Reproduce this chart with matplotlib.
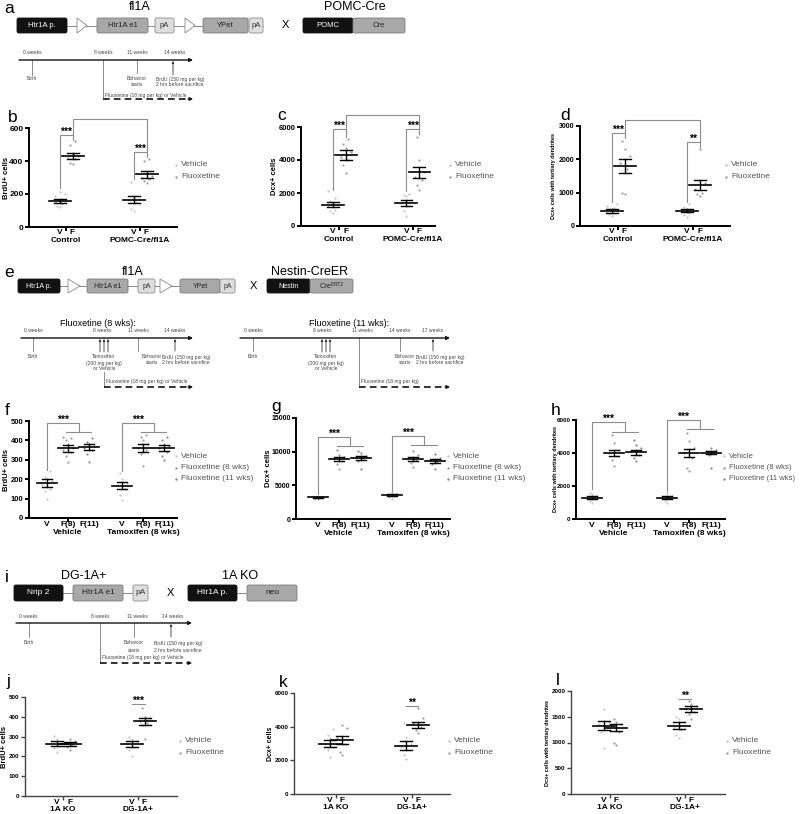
import numpy as np
import matplotlib
matplotlib.use("Agg")
import matplotlib.pyplot as plt
from matplotlib.patches import FancyBboxPatch, Polygon

plt.rcParams['font.family'] = ['Liberation Sans', 'DejaVu Sans']

W, H = 800, 814

# ---------------- data ----------------
two_cats = ["V", "F"]
three_cats = ["V", "F(8)", "F(11)"]
pomc_groups = ["Control", "POMC-Cre/fl1A"]
nestin_groups = ["Vehicle", "Tamoxifen (8 wks)"]
dg_groups = ["1A KO", "DG-1A+"]
legend2 = ["Vehicle", "Fluoxetine"]
legend3 = ["Vehicle", "Fluoxetine (8 wks)", "Fluoxetine (11 wks)"]

# panel b: BrdU+ cells
b_means = [[160, 430], [165, 320]]
b_sems = [[12, 18], [20, 20]]
b_points = [[[120, 130, 140, 150, 155, 160, 165, 170, 185, 200, 210],
             [380, 390, 410, 420, 430, 440, 500, 520]],
            [[100, 110, 150, 165, 170, 180, 275],
             [265, 280, 290, 300, 310, 330, 400, 410]]]
# panel c: Dcx+ cells
c_means = [[1300, 4300], [1380, 3250]]
c_sems = [[150, 280], [170, 350]]
c_points = [[[800, 900, 1000, 1200, 1300, 1400, 1500, 1700, 2100],
             [3200, 3700, 4000, 4200, 4500, 4700, 5000, 5300]],
            [[600, 900, 1200, 1400, 1600, 1800, 1900, 1950],
             [2200, 2500, 2800, 3000, 3300, 4000, 5400]]]
# panel d: Dcx+ cells with tertiary dendrites
d_means = [[450, 1800], [460, 1230]]
d_sems = [[50, 200], [50, 160]]
d_points = [[[300, 350, 380, 420, 450, 480, 500, 550, 600, 650],
             [950, 1000, 1700, 1900, 2100, 2300, 2550]],
            [[280, 330, 400, 450, 480, 520, 560, 650],
             [900, 950, 1000, 1100, 1300, 2300]]]
# panel f
f_means = [[180, 360, 365], [165, 360, 360]]
f_sems = [[20, 18, 15], [18, 20, 15]]
f_points = [[[100, 140, 150, 170, 190, 200, 210, 240],
             [290, 320, 340, 350, 360, 380, 400, 410, 420],
             [290, 330, 350, 360, 370, 380, 390, 410]],
            [[95, 120, 150, 170, 180, 200, 230],
             [270, 330, 350, 360, 380, 400, 420, 430],
             [300, 320, 340, 360, 370, 380, 400, 420]]]
# panel g
g_means = [[3200, 8900, 9100], [3500, 8900, 8600]]
g_sems = [[80, 300, 300], [150, 350, 300]]
g_points = [[[2900, 3000, 3100, 3200, 3300, 3400],
             [7500, 8200, 8600, 8900, 9200, 9500, 10200],
             [7400, 8600, 9000, 9200, 9400, 9800, 10100]],
            [[3000, 3200, 3400, 3600, 3800, 4000],
             [7700, 8300, 8800, 9100, 9500, 10100],
             [7500, 8200, 8500, 8700, 9000, 9600]]]
# panel h
h_means = [[1300, 4000, 4050], [1300, 3980, 4030]]
h_sems = [[100, 200, 150], [100, 250, 120]]
h_points = [[[1000, 1100, 1200, 1300, 1400, 1500, 1600],
             [3200, 3600, 3800, 4000, 4200, 4600, 5100],
             [3500, 3700, 3900, 4100, 4300, 4500, 4800]],
            [[1000, 1100, 1250, 1300, 1400, 1550],
             [2900, 3100, 3700, 4000, 4300, 4700, 5200],
             [3100, 3900, 4000, 4100, 4200, 4300]]]
# panel j
j_means = [[265, 265], [263, 378]]
j_sems = [[12, 10], [15, 18]]
j_points = [[[220, 240, 255, 265, 275, 290, 305],
             [230, 245, 260, 270, 280, 290]],
            [[200, 230, 250, 265, 280, 290, 300],
             [290, 360, 370, 380, 395, 400, 445]]]
# panel k
k_means = [[3000, 3200], [2870, 4100]]
k_sems = [[200, 220], [250, 200]]
k_points = [[[2200, 2600, 2800, 3000, 3200, 3300, 3500, 3850],
             [2300, 2500, 3000, 3300, 3900, 4100]],
            [[2100, 2300, 2600, 2800, 3000, 3400, 4200],
             [3600, 3800, 4000, 4200, 4500, 5100]]]
# panel l
l_means = [[1330, 1290], [1330, 1650]]
l_sems = [[80, 70], [60, 50]]
l_points = [[[900, 1200, 1300, 1350, 1400, 1650],
             [950, 1000, 1200, 1300, 1350, 1400, 1450]],
            [[1080, 1150, 1250, 1300, 1400, 1450, 1500],
             [1450, 1550, 1600, 1650, 1700, 1750, 1800]]]

VEH = '#c6c6c6'
FLU = '#9c9c9c'
FLU11 = '#8a8a8a'
JIT = [0, -2.5, 2.5, -5, 5]

fig = plt.figure(figsize=(W / 100, H / 100), dpi=100)
fig.patch.set_facecolor('white')

# overlay in pixel units for the schematics and labels
ax0 = fig.add_axes([0, 0, 1, 1])
ax0.set_xlim(0, W)
ax0.set_ylim(H, 0)
ax0.axis('off')


def box(x0, x1, yc, h, label, kind, fs=5):
    styles = {'black': ('#111111', '#111111', 'white'),
              'gray': ('#a8a8a8', '#7c7c7c', '#222222'),
              'light': ('#dedede', '#8c8c8c', '#333333')}
    fc, ec, tc = styles[kind]
    ax0.add_patch(FancyBboxPatch((x0, yc - h / 2), x1 - x0, h,
                                 boxstyle='round,pad=0,rounding_size=2',
                                 fc=fc, ec=ec, lw=0.6, zorder=2))
    ax0.text((x0 + x1) / 2, yc, label, color=tc, fontsize=fs,
             ha='center', va='center', zorder=3)


def tri(x0, x1, yc, h):
    ax0.add_patch(Polygon([(x0, yc - h / 2), (x0, yc + h / 2), (x1, yc)],
                          closed=True, fc='white', ec='#888888', lw=0.6, zorder=2))


def link(x0, x1, yc):
    ax0.plot([x0, x1], [yc, yc], color='#888888', lw=0.7, zorder=1)


def tl_text(x, y, s, ha='center', fs=3.6):
    ax0.text(x, y, s, fontsize=fs, ha=ha, va='center', color='#444444')


def timeline(x0, x1, y, labels):
    ax0.annotate('', xy=(x1, y), xytext=(x0, y),
                 arrowprops=dict(arrowstyle='-|>', color='#111111', lw=1.0,
                                 mutation_scale=5, shrinkA=0, shrinkB=0))
    for x, t in labels:
        tl_text(x, y - 7, t)


def vtick(x, y0, y1):
    ax0.plot([x, x], [y0, y1], color='#777777', lw=0.6)


def uparrow(x, y0, y1):
    ax0.annotate('', xy=(x, y1), xytext=(x, y0),
                 arrowprops=dict(arrowstyle='-|>', color='#333333', lw=0.6,
                                 mutation_scale=3, shrinkA=0, shrinkB=0))


def dashed_arrow(x0, x1, y):
    ax0.plot([x0, x1 - 4], [y, y], color='#111111', lw=1.2, ls=(0, (4, 2.5)))
    ax0.annotate('', xy=(x1, y), xytext=(x1 - 5, y),
                 arrowprops=dict(arrowstyle='-|>', color='#111111', lw=0.8,
                                 mutation_scale=5, shrinkA=0, shrinkB=0))


def letter(x, y, s):
    ax0.text(x, y, s, fontsize=12.5, ha='left', va='baseline')


def legend(x, y, labels, cols, dy, fs=6):
    for i, (lab, c) in enumerate(zip(labels, cols)):
        ax0.scatter([x], [y + i * dy], s=3, color=c, linewidths=0)
        ax0.text(x + 5, y + i * dy, lab, fontsize=fs, va='center', color='#555555')


def data_panel(bx, ymax, yticks, centers, off, means, sems, pts, cols,
               cat_lbl, grp_lbl, ylabel, ylab_x, ylab_fs, mean_hw, cap_hw,
               axis_lw=1.4, axis_col='black', cat_off=-1.5, grp_off=-7.5, tick_fs=6):
    L, R, top, bot = bx
    ax = fig.add_axes([L / W, 1 - bot / H, (R - L) / W, (bot - top) / H])
    ax.patch.set_visible(False)
    S = centers[1] - centers[0]
    ax.set_xlim((L - centers[0]) / S, (R - centers[0]) / S)
    ax.set_ylim(0, ymax)
    for s in ['top', 'right']:
        ax.spines[s].set_visible(False)
    for s in ['left', 'bottom']:
        ax.spines[s].set_linewidth(axis_lw)
        ax.spines[s].set_color(axis_col)
    ax.set_yticks(yticks)
    ax.set_yticklabels([str(v) for v in yticks], fontsize=tick_fs, fontweight='bold')
    ax.set_xticks(range(len(means)))
    ax.set_xticklabels([])
    ax.tick_params(length=3, width=axis_lw, color=axis_col, pad=1)
    n = len(means[0])
    xs = [[g + (j - (n - 1) / 2) * off / S for j in range(n)] for g in range(len(means))]
    for g in range(len(means)):
        for j in range(n):
            x = xs[g][j]
            v = sorted(pts[g][j])
            dx = np.array([JIT[k % 5] for k in range(len(v))]) / S
            ax.scatter(x + dx, v, s=2.5, color=cols[j], linewidths=0, zorder=2, clip_on=False)
            m, e = means[g][j], sems[g][j]
            ax.plot([x - mean_hw / S, x + mean_hw / S], [m, m], color='black', lw=1.2, zorder=3)
            ax.plot([x, x], [m - e, m + e], color='black', lw=1.0, zorder=3)
            for yy in (m - e, m + e):
                ax.plot([x - cap_hw / S, x + cap_hw / S], [yy, yy], color='black', lw=1.0, zorder=3)
            ax.annotate(cat_lbl[j], xy=(x, 0), xycoords=('data', 'axes fraction'),
                        xytext=(0, cat_off), textcoords='offset points',
                        ha='center', va='top', fontsize=6, fontweight='bold')
        ax.annotate(grp_lbl[g], xy=(g, 0), xycoords=('data', 'axes fraction'),
                    xytext=(0, grp_off), textcoords='offset points',
                    ha='center', va='top', fontsize=6, fontweight='bold')
    fig.text(ylab_x / W, 1 - (top + bot) / 2 / H, ylabel, rotation=90,
             ha='center', va='center', fontsize=ylab_fs, fontweight='bold')
    return ax, xs


def bracket(ax, x1, x2, y, y1, y2, label, col='#8c8c8c'):
    ax.plot([x1, x1, x2, x2], [y1, y, y, y2], color=col, lw=0.8, clip_on=False)
    if label:
        ax.annotate(label, xy=((x1 + x2) / 2, y), xytext=(0, -1.5),
                    textcoords='offset points', ha='center', va='bottom',
                    fontsize=7.5, fontweight='bold')


def hline(ax, x1, x2, y, col='#8c8c8c'):
    ax.plot([x1, x2], [y, y], color=col, lw=0.8, clip_on=False)


# ---------------- panel a ----------------
letter(4, 13, 'a')
ax0.text(140, 7, 'fl1A', fontsize=9, ha='center', va='center')
ax0.text(355, 7, 'POMC-Cre', fontsize=9, ha='center', va='center')
link(67, 263, 25.5)
box(17, 67, 25.5, 15, 'Htr1A p.', 'black', 5.5)
tri(77, 87, 25.5, 15)
box(97, 148, 25.5, 15, 'Htr1A e1', 'gray', 5.5)
box(155, 174, 25.5, 15, 'pA', 'light', 5.5)
tri(185, 195, 25.5, 15)
box(203, 248, 25.5, 15, 'YPet', 'gray', 5.5)
box(249, 263, 25.5, 15, 'pA', 'light', 5.5)
ax0.text(285, 25.5, 'X', fontsize=8, ha='center', va='center')
box(303, 353, 25.5, 15, 'POMC', 'black', 5.5)
box(353, 405, 25.5, 15, 'Cre', 'gray', 5.5)

timeline(19, 193, 60, [(32, '0 weeks'), (103, '8 weeks'), (137, '11 weeks'), (175, '14 weeks')])
vtick(32, 60, 75)
tl_text(32, 79, 'Birth')
vtick(103, 60, 98)
vtick(137, 60, 73)
tl_text(137, 79, 'Behavior')
tl_text(137, 85, 'starts')
uparrow(173, 75, 61)
tl_text(180, 79, 'BrdU (150 mg per kg)')
tl_text(180, 85, '2 hrs before sacrifice')
tl_text(105, 95, 'Fluoxetine (18 mg per kg) or Vehicle', ha='left')
dashed_arrow(103, 193, 99)

# ---------------- panels b, c, d ----------------
letter(8, 122, 'b')
ax, xs = data_panel((29, 177, 128, 227), 600, [0, 200, 400, 600], [66, 140], 13,
                    b_means, b_sems, b_points, [VEH, FLU], two_cats, pomc_groups,
                    'BrdU+ cells', 7, 5.5, 11, 6, tick_fs=6)
bracket(ax, xs[0][0], xs[0][1], 560, 235, 530, '***')
bracket(ax, xs[0][1], xs[1][1], 655, 560, 455, '***')
bracket(ax, xs[1][0], xs[1][1], 455, 290, 425, '***')
legend(176, 165, legend2, [VEH, FLU], 12)

letter(277, 120, 'c')
ax, xs = data_panel((301, 435, 127, 226), 6000, [0, 2000, 4000, 6000], [339, 413], 13,
                    c_means, c_sems, c_points, [VEH, FLU], two_cats, pomc_groups,
                    'Dcx+ cells', 275, 5.5, 11, 6, tick_fs=5.5)
bracket(ax, xs[0][0], xs[0][1], 5880, 2200, 5400, '***')
bracket(ax, xs[0][1], xs[1][1], 6730, 5880, 5880, '*')
bracket(ax, xs[1][0], xs[1][1], 5880, 2100, 5550, '***')
legend(450, 165, legend2, [VEH, FLU], 12)

letter(560, 120, 'd')
ax, xs = data_panel((580, 730, 126, 226), 3000, [0, 1000, 2000, 3000], [618, 693], 13,
                    d_means, d_sems, d_points, [VEH, FLU], two_cats, pomc_groups,
                    'Dcx+ cells with tertiary dendrites', 553, 4, 11, 6, tick_fs=5)
bracket(ax, xs[0][0], xs[0][1], 2790, 720, 2650, '***')
bracket(ax, xs[0][1], xs[1][1], 3180, 2790, 2520, '*')
bracket(ax, xs[1][0], xs[1][1], 2520, 720, 2380, '**')
legend(726, 165, legend2, [VEH, FLU], 12)

# ---------------- panel e ----------------
letter(4, 277, 'e')
ax0.text(133, 272, 'fl1A', fontsize=9, ha='center', va='center')
ax0.text(310, 272, 'Nestin-CreER', fontsize=9, ha='center', va='center')
link(60, 235, 286)
box(18, 60, 286, 14, 'Htr1A p.', 'black')
tri(68, 80, 286, 14)
box(87, 128, 286, 14, 'Htr1A e1', 'gray')
box(138, 155, 286, 14, 'pA', 'light')
tri(160, 172, 286, 14)
box(180, 220, 286, 14, 'YPet', 'gray')
box(220, 235, 286, 14, 'pA', 'light')
ax0.text(253, 286, 'X', fontsize=8, ha='center', va='center')
box(267, 310, 286, 14, 'Nestin', 'black')
box(310, 353, 286, 14, r'Cre$^{\mathrm{ERT2}}$', 'gray')

ax0.text(98, 323, 'Fluoxetine (8 wks):', fontsize=6.5, ha='center', va='center')
timeline(21, 193, 338, [(33, '0 weeks'), (102, '8 weeks'), (138, '11 weeks'), (175, '14 weeks')])
vtick(33, 338, 351)
tl_text(33, 357, 'Birth')
for xa in (100, 104, 108):
    uparrow(xa, 352, 339)
tl_text(104, 357, 'Tamoxifen')
tl_text(104, 363, '(200 mg per kg)')
tl_text(104, 369, 'or Vehicle')
vtick(138, 338, 351)
tl_text(152, 357, 'Behavior')
tl_text(152, 363, 'starts')
uparrow(175, 351, 339)
tl_text(186, 357, 'BrdU (150 mg per kg)')
tl_text(186, 363, '2 hrs before sacrifice')
vtick(104, 372, 387)
tl_text(106, 382, 'Fluoxetine (18 mg per kg) or Vehicle', ha='left')
dashed_arrow(104, 193, 387)

ax0.text(349, 323, 'Fluoxetine (11 wks):', fontsize=6.5, ha='center', va='center')
timeline(240, 450, 338, [(253, '0 weeks'), (322, '8 weeks'), (362, '11 weeks'),
                         (400, '14 weeks'), (433, '17 weeks')])
vtick(253, 338, 351)
tl_text(253, 357, 'Birth')
for xa in (322, 326, 330):
    uparrow(xa, 352, 339)
tl_text(326, 357, 'Tamoxifen')
tl_text(326, 363, '(200 mg per kg)')
tl_text(326, 369, 'or Vehicle')
vtick(359, 338, 387)
vtick(400, 338, 351)
tl_text(405, 357, 'Behavior')
tl_text(405, 363, 'starts')
uparrow(433, 351, 339)
tl_text(440, 357, 'BrdU (150 mg per kg)')
tl_text(440, 363, '2 hrs before sacrifice')
tl_text(361, 382, 'Fluoxetine (18 mg per kg)', ha='left')
dashed_arrow(359, 450, 387)

# ---------------- panels f, g, h ----------------
letter(5, 415, 'f')
ax, xs = data_panel((29, 177, 421, 518), 500, [0, 100, 200, 300, 400, 500], [68, 143], 21,
                    f_means, f_sems, f_points, [VEH, FLU, FLU11], three_cats, nestin_groups,
                    'BrdU+ cells', 7, 5.5, 10, 5, cat_off=-2, grp_off=-8, tick_fs=5.5)
for g, ystart in zip(range(2), (250, 240)):
    mid = (xs[g][1] + xs[g][2]) / 2
    bracket(ax, xs[g][0], mid, 490, ystart, 445, '***')
    hline(ax, xs[g][1] - 0.03, xs[g][2] + 0.03, 445)
legend(176, 456, legend3, [VEH, FLU, FLU11], 11.5)

letter(271, 411, 'g')
ax, xs = data_panel((296, 450, 418, 519), 15000, [0, 5000, 10000, 15000], [339, 413], 21.5,
                    g_means, g_sems, g_points, [VEH, FLU, FLU11], three_cats, nestin_groups,
                    'Dcx+ cells', 268, 5.5, 10, 5, cat_off=-2, grp_off=-8, tick_fs=5)
for g, ytop, ystart, ysub in zip(range(2), (12180, 12300), (3700, 4200), (10850, 10990)):
    mid = (xs[g][1] + xs[g][2]) / 2
    bracket(ax, xs[g][0], mid, ytop, ystart, ysub, '***')
    hline(ax, xs[g][1] - 0.03, xs[g][2] + 0.03, ysub)
legend(448, 456, legend3, [VEH, FLU, FLU11], 11.5)

letter(551, 415, 'h')
ax, xs = data_panel((576, 725, 420, 519), 6000, [0, 2000, 4000, 6000], [614, 689], 22,
                    h_means, h_sems, h_points, [VEH, FLU, FLU11], three_cats, nestin_groups,
                    'Dcx+ cells with tertiary dendrites', 555, 4, 10, 5, cat_off=-2, grp_off=-8,
                    tick_fs=4.5)
for g, ytop, ystart, ysub in zip(range(2), (5900, 6000), (1800, 1700), (5300, 5450)):
    mid = (xs[g][1] + xs[g][2]) / 2
    bracket(ax, xs[g][0], mid, ytop, ystart, ysub, '***')
    hline(ax, xs[g][1] - 0.03, xs[g][2] + 0.03, ysub)
legend(724, 456, legend3, [VEH, FLU, FLU11], 11.5, fs=5.5)

# ---------------- panel i ----------------
letter(5, 582, 'i')
ax0.text(84, 576, 'DG-1A+', fontsize=9, ha='center', va='center')
ax0.text(240, 576, '1A KO', fontsize=9, ha='center', va='center')
link(63, 133, 593)
box(14, 63, 593, 16, 'Nrip 2', 'black', 6)
box(73, 123, 593, 16, 'Htr1A e1', 'gray', 6)
box(133, 148, 593, 16, 'pA', 'light', 6)
ax0.text(170, 593, 'X', fontsize=8, ha='center', va='center')
link(237, 247, 593)
box(188, 237, 593, 16, 'Htr1A p.', 'black', 6)
box(247, 297, 593, 16, 'neo', 'gray', 6)

timeline(16, 192, 623, [(28, '0 weeks'), (100, '8 weeks'), (137, '11 weeks'), (173, '14 weeks')])
vtick(29, 623, 637)
tl_text(29, 643, 'Birth')
vtick(100, 623, 663)
vtick(134, 623, 637)
tl_text(134, 643, 'Behavior')
tl_text(134, 650, 'starts')
uparrow(171, 637, 624)
tl_text(178, 643, 'BrdU (150 mg per kg)')
tl_text(178, 650, '2 hrs before sacrifice')
tl_text(102, 658, 'Fluoxetine (18 mg per kg) or Vehicle', ha='left')
dashed_arrow(100, 192, 663)

# ---------------- panels j, k, l ----------------
GRAYAX = '#444444'
letter(6, 686, 'j')
ax, xs = data_panel((25, 177, 697, 796), 500, [0, 100, 200, 300, 400, 500], [63, 138], 13,
                    j_means, j_sems, j_points, [VEH, FLU], two_cats, dg_groups,
                    'BrdU+ cells', 5, 5.5, 11, 6, axis_lw=1.0, axis_col=GRAYAX,
                    cat_off=-2, grp_off=-7.5, tick_fs=4.5)
hline(ax, xs[1][0], xs[1][1], 465)
ax.annotate('***', xy=((xs[1][0] + xs[1][1]) / 2, 465), xytext=(0, -1.5),
            textcoords='offset points', ha='center', va='bottom', fontsize=7.5, fontweight='bold')
legend(180, 741, legend2, [VEH, FLU], 12)

letter(279, 687, 'k')
ax, xs = data_panel((294, 450, 693, 794), 6000, [0, 2000, 4000, 6000], [336, 412], 12,
                    k_means, k_sems, k_points, [VEH, FLU], two_cats, dg_groups,
                    'Dcx+ cells', 270, 5, 11, 6, axis_lw=1.0, axis_col=GRAYAX,
                    cat_off=-2, grp_off=-7.5, tick_fs=4.5)
hline(ax, xs[1][0], xs[1][1], 5230)
ax.annotate('**', xy=((xs[1][0] + xs[1][1]) / 2, 5230), xytext=(0, -1.5),
            textcoords='offset points', ha='center', va='bottom', fontsize=7.5, fontweight='bold')
legend(449, 741, legend2, [VEH, FLU], 12)

letter(556, 685, 'l')
ax, xs = data_panel((571, 725, 691, 794), 2000, [0, 500, 1000, 1500, 2000], [610, 685], 12.5,
                    l_means, l_sems, l_points, [VEH, FLU], two_cats, dg_groups,
                    'Dcx+ cells with tertiary dendrites', 548, 4, 11, 6, axis_lw=1.0,
                    axis_col=GRAYAX, cat_off=-2, grp_off=-7.5, tick_fs=4.5)
hline(ax, xs[1][0], xs[1][1], 1840)
ax.annotate('**', xy=((xs[1][0] + xs[1][1]) / 2, 1840), xytext=(0, -1.5),
            textcoords='offset points', ha='center', va='bottom', fontsize=7.5, fontweight='bold')
legend(727, 741, legend2, [VEH, FLU], 12)

fig.savefig('out.png', dpi=100)
